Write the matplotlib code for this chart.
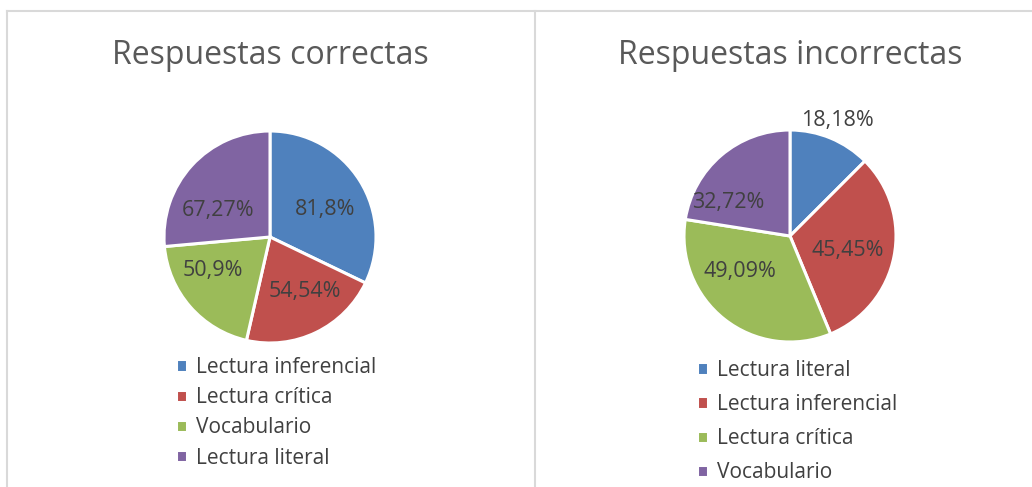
import numpy as np
import matplotlib
matplotlib.use("Agg")
import matplotlib.pyplot as plt
from matplotlib.lines import Line2D

plt.rcParams['font.family'] = ['Open Sans', 'DejaVu Sans']

# ---- data ----
title_left = "Respuestas correctas"
cats_left = ["Lectura inferencial", "Lectura crítica", "Vocabulario", "Lectura literal"]
vals_left = [81.8, 54.54, 50.9, 67.27]
labels_left = ["81,8%", "54,54%", "50,9%", "67,27%"]

title_right = "Respuestas incorrectas"
cats_right = ["Lectura literal", "Lectura inferencial", "Lectura crítica", "Vocabulario"]
vals_right = [18.18, 45.45, 49.09, 32.72]
labels_right = ["18,18%", "45,45%", "49,09%", "32,72%"]

colors = ["#4F81BD", "#C0504D", "#9BBB59", "#8064A2"]
TXT = "#404040"
TITLE = "#595959"
BORDER = "#D9D9D9"

W, H = 1032, 487
fig = plt.figure(figsize=(W / 100, H / 100), dpi=100)

def px(x, y):
    return x / W, 1 - y / H

# borders
fig.add_artist(Line2D([7 / W, 7 / W], [0, 1 - 10.5 / H], color=BORDER, lw=1.5))
fig.add_artist(Line2D([7 / W, 1], [1 - 10.5 / H, 1 - 10.5 / H], color=BORDER, lw=1.5))
fig.add_artist(Line2D([535 / W, 535 / W], [0, 1 - 10.5 / H], color=BORDER, lw=1.5))

R = 106.0  # pie radius in px

def draw_pie(cx, cy, vals, lbls, cats, title, dists, angle_adj, legend_xy, spacing):
    half = 150
    x0, y1 = px(cx - half, cy - half)
    ax = fig.add_axes([x0, y1 - 2 * half / H, 2 * half / W, 2 * half / H])
    ax.axis('off')
    wedges, _ = ax.pie(vals, colors=colors, startangle=90, counterclock=False,
                       radius=1.0, wedgeprops=dict(edgecolor='white', linewidth=2.2))
    ax.set_xlim(-half / R, half / R)
    ax.set_ylim(-half / R, half / R)
    for w, lbl, d, da in zip(wedges, lbls, dists, angle_adj):
        mid = np.deg2rad((w.theta1 + w.theta2) / 2 + da)
        ax.text(d * np.cos(mid), d * np.sin(mid), lbl, ha='center', va='center',
                fontsize=15.5, color=TXT)
    tx, ty = px(cx, 55)
    fig.text(tx, ty, title, ha='center', va='center', fontsize=23, color=TITLE)
    lx, ly = px(*legend_xy)
    fig.legend(wedges, cats, loc='upper left', bbox_to_anchor=(lx, ly), frameon=False,
               handlelength=0.55, handleheight=0.55, handletextpad=0.42,
               labelspacing=spacing, fontsize=15, labelcolor=TXT, borderpad=0,
               borderaxespad=0)

draw_pie(270, 237, vals_left, labels_left, cats_left, title_left,
         [0.58, 0.61, 0.62, 0.55], [-6, 7, -11, 15], (176, 357), 0.44)
draw_pie(790, 236, vals_right, labels_right, cats_right, title_right,
         [1.18, 0.56, 0.58, 0.66], [0, -3, -17, 21], (697, 360), 0.63)

fig.savefig("out.png", dpi=100, facecolor='white')
